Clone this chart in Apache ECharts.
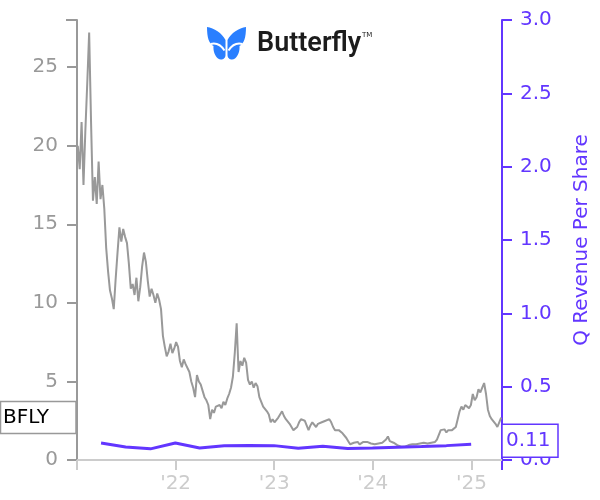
<!DOCTYPE html>
<html><head><meta charset="utf-8">
<script src="https://cdn.jsdelivr.net/npm/echarts@6/dist/echarts.min.js"></script>
<style>html,body{margin:0;padding:0;background:#fff}#c{width:600px;height:500px}</style>
</head><body><div id="c"></div>
<script>
const ticker = 'BFLY';
const companyName = 'Butterfly';
const rightAxisName = 'Q Revenue Per Share';
const priceStartDate = '2021-01-04';
const priceStepDays = 7;
const weeklyPrice = [
20.0,18.5,21.5,17.5,21.0,24.0,27.2,21.5,16.5,18.0,
16.3,19.0,16.6,17.5,16.0,13.5,12.0,10.8,10.3,9.6,
11.5,13.2,14.8,13.9,14.7,14.2,13.8,12.5,10.9,11.2,
10.5,11.6,10.1,11.0,12.3,13.2,12.6,11.4,10.4,10.9,
10.5,10.0,10.6,10.2,9.6,7.9,7.2,6.6,6.9,7.4,
6.8,7.1,7.5,7.2,6.3,5.9,6.4,6.1,6.2,5.6,
5.0,4.6,4.0,5.4,5.0,4.8,4.4,4.0,3.8,3.5,
2.6,3.2,3.0,3.4,3.3,3.5,3.3,3.7,3.5,3.9,
4.2,4.6,5.3,6.8,8.7,5.6,6.3,6.0,6.5,6.2,
5.1,4.8,5.0,4.6,4.9,4.7,4.0,3.7,3.4,3.5,
3.1,2.9,2.4,2.6,2.4,2.5,2.7,2.8,3.1,2.8,
2.6,2.5,2.3,2.1,1.9,2.0,2.1,2.4,2.6,2.7,
2.5,2.2,1.9,2.2,2.4,2.3,2.1,2.3,2.2,2.4,
2.3,2.5,2.4,2.6,2.4,2.1,1.9,2.0,1.9,1.8,
1.7,1.6,1.4,1.2,1.0,0.95,1.1,1.05,1.15,1.0,
1.1,1.15,1.05,1.15,1.1,1.05,1.1,1.0,1.1,1.05,
1.0,1.1,1.15,1.3,1.5,1.2,1.15,1.1,1.0,0.95,
0.9,0.85,0.75,0.85,0.9,0.95,0.9,1.0,1.05,1.0,
1.1,1.05,1.15,1.1,1.2,1.05,1.15,1.1,1.2,1.15,
1.3,1.6,1.9,1.8,1.95,1.75,1.9,1.85,1.9,1.8,
2.1,2.6,3.1,3.4,3.2,3.5,3.6,3.3,3.5,4.2,
3.8,4.0,4.5,4.3,4.6,4.9,4.2,3.2,2.8,2.6,
2.5,2.3,2.1,2.4,2.7
];
const revenueQuarterEnds = ['2021-03-31','2021-06-30','2021-09-30','2021-12-31',
  '2022-03-31','2022-06-30','2022-09-30','2022-12-31',
  '2023-03-31','2023-06-30','2023-09-30','2023-12-31',
  '2024-03-31','2024-06-30','2024-09-30','2024-12-31'];
const revenuePerShare = [0.116,0.089,0.076,0.116,0.082,0.097,0.099,0.098,
  0.080,0.093,0.078,0.082,0.087,0.092,0.098,0.108];
const xStartYear = 2021;
const xEndYear = 2025.31;
const leftMax = 28;
const rightMax = 3.0;

const GRAY = '#999999';
const PURPLE = '#6236ff';
const LIGHT = '#cccccc';
const FONT = 'DejaVu Sans';

function fracYear(t) {
  const d = new Date(t);
  const y = d.getUTCFullYear();
  const s = Date.UTC(y, 0, 1), e = Date.UTC(y + 1, 0, 1);
  return y + (t - s) / (e - s);
}
const startT = Date.parse(priceStartDate + 'T00:00:00Z');
const priceData = weeklyPrice.map((v, i) => [fracYear(startT + i * priceStepDays * 86400000), v]);
const revData = revenueQuarterEnds.map((d, i) => [fracYear(Date.parse(d + 'T00:00:00Z')), revenuePerShare[i]]);

const wingPath = 'M0 0 C7 1 15 6 18.5 13 L18.5 28 C18.5 32 14 34 11 31.5 C8 29 6 24 6.5 19 C2 16.5 0 11 0 0 Z';
const gapPath = 'M3.5 17 C9 15.5 14 18 17.5 23.5';
let canPath = false;
try {
  echarts.graphic.registerShape('bfWing', echarts.graphic.extendPath(wingPath, {}));
  echarts.graphic.registerShape('bfGap', echarts.graphic.extendPath(gapPath, {}));
  canPath = true;
} catch (e) { canPath = false; }

const chart = echarts.init(document.getElementById('c'), null, {renderer: 'canvas'});
chart.setOption({
  animation: false,
  grid: {left: 77, right: 98, top: 20, bottom: 40, outerBoundsMode: 'none', containLabel: false},
  xAxis: {
    type: 'value', min: xStartYear, max: xEndYear, interval: 1,
    axisLine: {lineStyle: {color: LIGHT, width: 2}},
    axisTick: {length: 10, lineStyle: {color: LIGHT, width: 2}},
    splitLine: {show: false},
    axisLabel: {color: LIGHT, fontSize: 20, fontFamily: FONT, margin: 14,
      showMaxLabel: false,
      formatter: v => (Math.abs(v - Math.round(v)) < 1e-6 && v > xStartYear) ? "'" + String(Math.round(v)).slice(2) : ''}
  },
  yAxis: [{
    type: 'value', min: 0, max: leftMax, interval: 5, position: 'left',
    axisLine: {show: true, lineStyle: {color: GRAY, width: 2}},
    axisTick: {show: true, length: 10, lineStyle: {color: GRAY, width: 2}},
    splitLine: {show: false},
    axisLabel: {color: GRAY, fontSize: 20, fontFamily: FONT, margin: 19, showMaxLabel: false}
  }, {
    type: 'value', min: 0, max: rightMax, interval: 0.5, position: 'right',
    name: rightAxisName, nameLocation: 'middle', nameRotate: 90, nameGap: 70,
    nameTextStyle: {color: PURPLE, fontSize: 20, fontFamily: FONT},
    axisLine: {show: true, lineStyle: {color: PURPLE, width: 2}},
    axisTick: {show: true, length: 10, lineStyle: {color: PURPLE, width: 2}},
    splitLine: {show: false},
    axisLabel: {color: PURPLE, fontSize: 20, fontFamily: FONT, margin: 18,
      formatter: v => v.toFixed(1)}
  }],
  series: [{
    type: 'line', yAxisIndex: 0, data: priceData, showSymbol: false,
    lineStyle: {color: GRAY, width: 2}, z: 2
  }, {
    type: 'line', yAxisIndex: 1, data: revData, showSymbol: false,
    lineStyle: {color: PURPLE, width: 3}, z: 3
  }]
});

const lastPrice = weeklyPrice[weeklyPrice.length - 1];
const lastRev = revenuePerShare[revenuePerShare.length - 1];
const pY = chart.convertToPixel({yAxisIndex: 0}, lastPrice);
const rY = chart.convertToPixel({yAxisIndex: 1}, lastRev);
const topY = chart.convertToPixel({yAxisIndex: 0}, leftMax);
const x0 = chart.convertToPixel({xAxisIndex: 0}, xStartYear);
const x1 = chart.convertToPixel({xAxisIndex: 0}, xEndYear);
const baseY = chart.convertToPixel({yAxisIndex: 0}, 0);

const BLUE = '#2a7fff';
const wingChildren = canPath ? [
  {type: 'bfWing', style: {fill: BLUE}},
  {type: 'bfGap', style: {fill: null, stroke: '#fff', lineWidth: 2}}
] : [
  {type: 'polygon', shape: {points: [[0,0],[10,3],[18.5,13],[18.5,30],[12,32],[7,24],[6,19],[1,13]]}, style: {fill: BLUE}}
];

const graphics = [
  {type: 'line', shape: {x1: x0 - 11, y1: topY, x2: x0, y2: topY}, style: {stroke: GRAY, lineWidth: 2}},
  {type: 'line', shape: {x1: x1, y1: baseY, x2: x1, y2: baseY + 10}, style: {stroke: PURPLE, lineWidth: 2}},
  {type: 'rect', shape: {x: 0.5, y: pY - 16, width: x0 - 1.5, height: 32},
    style: {fill: '#fff', stroke: GRAY, lineWidth: 1.5}, z: 10},
  {type: 'text', x: 3, y: pY, style: {text: ticker, fill: '#000', fontSize: 20, fontFamily: FONT, verticalAlign: 'middle'}, z: 11},
  {type: 'rect', shape: {x: x1, y: rY - 20, width: 56, height: 33},
    style: {fill: '#fff', stroke: PURPLE, lineWidth: 1.5}, z: 10},
  {type: 'text', x: x1 + 4, y: rY - 3.5, style: {text: lastRev.toFixed(2), fill: PURPLE, fontSize: 20, fontFamily: FONT, verticalAlign: 'middle'}, z: 11},
  {type: 'text', x: 257, y: 44, style: {text: companyName, fill: '#1c1c1c', fontSize: 27, fontWeight: 600, fontFamily: 'Roboto', verticalAlign: 'middle'}},
  {type: 'text', x: 362, y: 35, style: {text: 'TM', fill: '#1c1c1c', fontSize: 7, fontFamily: FONT, verticalAlign: 'middle'}},
  {type: 'group', x: 207, y: 27, children: [
    {type: 'group', children: wingChildren},
    {type: 'group', x: 39, scaleX: -1, children: wingChildren.map(c => Object.assign({}, c))}
  ]}
];
chart.setOption({graphic: graphics});
</script>
</body></html>
